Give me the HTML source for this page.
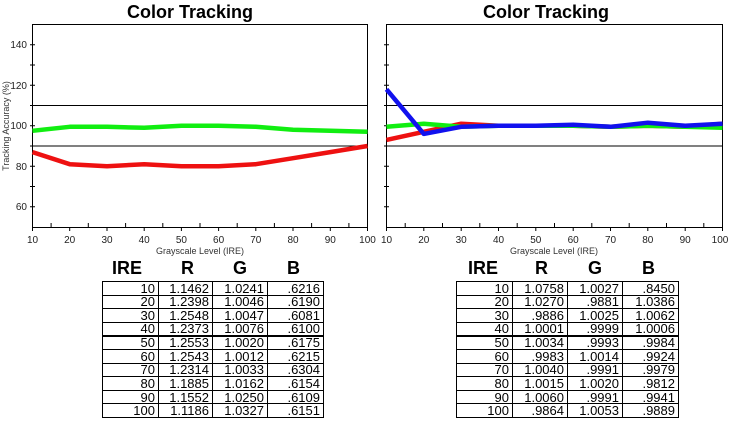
<!DOCTYPE html>
<html><head><style>
body{margin:0;width:733px;height:421px;background:#fff;overflow:hidden;font-family:"Liberation Sans",Arial,sans-serif;position:relative}
svg{position:absolute;left:0;top:0}
table{position:absolute;border-collapse:collapse;font-size:13px;table-layout:fixed}
td{box-sizing:border-box;border:1px solid #000;text-align:right;padding:0 3px 0 0;height:13.6px;line-height:11px;overflow:hidden}
tr.k td{border-bottom:2px solid #000}
.h{position:absolute;font-weight:bold;font-size:18px;top:258px}
</style></head><body>
<svg width="733" height="421" font-family="Liberation Sans, Arial, sans-serif">
<g font-weight="bold" font-size="18" text-anchor="middle">
<text x="190" y="18">Color Tracking</text>
<text x="546" y="18">Color Tracking</text>
</g>
<rect x="32.5" y="24.5" width="335" height="203" fill="none" stroke="#000" stroke-width="1"/>
<line x1="32.5" y1="105.5" x2="367.5" y2="105.5" stroke="#000"/>
<line x1="32.5" y1="146" x2="367.5" y2="146" stroke="#000"/>
<g stroke="#000">
<path d="M30 44.75h5M30 65h5M30 85.25h5M30 105.5h5M30 125.75h5M30 146h5M30 166.25h5M30 186.5h5M30 206.75h5"/>
<path d="M32.5 227v4M51.1 227v-4M69.7 227v4M88.3 227v-4M107 227v4M125.6 227v-4M144.2 227v4M162.8 227v-4M181.4 227v4M200 227v-4M218.6 227v4M237.2 227v-4M255.8 227v4M274.4 227v-4M293 227v4M311.6 227v-4M330.3 227v4M348.9 227v-4M367.5 227v4"/>
<path d="M384 44.75h5M384 65h5M384 85.25h5M384 105.5h5M384 125.75h5M384 146h5M384 166.25h5M384 186.5h5M384 206.75h5"/>
<path d="M386.5 227v4M405.2 227v-4M423.8 227v4M442.5 227v-4M461.2 227v4M479.8 227v-4M498.5 227v4M517.2 227v-4M535.8 227v4M554.5 227v-4M573.2 227v4M591.8 227v-4M610.5 227v4M629.2 227v-4M647.8 227v4M666.5 227v-4M685.2 227v4M703.8 227v-4M722.5 227v4"/>
</g>
<g font-size="10" fill="#222" text-anchor="end">
<text x="27" y="48">140</text><text x="27" y="89">120</text><text x="27" y="129">100</text><text x="27" y="170">80</text><text x="27" y="210">60</text>
</g>
<text transform="translate(9,126) rotate(-90)" font-size="9" fill="#333" text-anchor="middle">Tracking Accuracy (%)</text>
<g font-size="10" fill="#222" text-anchor="middle">
<text x="32.5" y="243">10</text><text x="69.7" y="243">20</text><text x="107" y="243">30</text><text x="144.2" y="243">40</text><text x="181.4" y="243">50</text><text x="218.6" y="243">60</text><text x="255.8" y="243">70</text><text x="293" y="243">80</text><text x="330.3" y="243">90</text><text x="367.5" y="243">100</text>
<text x="386.5" y="243">10</text><text x="423.8" y="243">20</text><text x="461.2" y="243">30</text><text x="498.5" y="243">40</text><text x="535.8" y="243">50</text><text x="573.2" y="243">60</text><text x="610.5" y="243">70</text><text x="647.8" y="243">80</text><text x="685.2" y="243">90</text><text x="720" y="243">100</text>
</g>
<text x="200" y="254" font-size="9" fill="#333" text-anchor="middle">Grayscale Level (IRE)</text>
<text x="554" y="254" font-size="9" fill="#333" text-anchor="middle">Grayscale Level (IRE)</text>
<g fill="none" stroke-width="4.5" stroke-linejoin="round">
<polyline stroke="#11ee11" points="32.5,130.8 69.7,126.8 107,126.8 144.2,127.8 181.4,125.8 218.6,125.8 255.8,126.8 293,129.8 330.3,130.8 367.5,131.8"/>
<polyline stroke="#ee1111" points="32.5,152.1 69.7,164.2 107,166.3 144.2,164.2 181.4,166.3 218.6,166.3 255.8,164.2 293,158.2 330.3,152.1 367.5,146"/>
</g>
<rect x="386.5" y="24.5" width="336" height="203" fill="none" stroke="#000" stroke-width="1"/>
<line x1="386.5" y1="105.5" x2="722.5" y2="105.5" stroke="#000"/>
<line x1="386.5" y1="146" x2="722.5" y2="146" stroke="#000"/>
<g fill="none" stroke-width="4.5" stroke-linejoin="round">
<polyline stroke="#ee1111" points="386.5,139.9 423.8,131.8 461.2,123.7 498.5,125.8 535.8,125.8 573.2,125.8 610.5,126.8 647.8,125.8 685.2,126.8 722.5,123.7"/>
<polyline stroke="#11ee11" points="386.5,126.8 423.8,123.7 461.2,126.8 498.5,125.8 535.8,125.8 573.2,125.8 610.5,126.8 647.8,125.8 685.2,126.8 722.5,127.8"/>
<polyline stroke="#1111ee" points="386.5,89.3 423.8,133.9 461.2,126.8 498.5,125.8 535.8,125.8 573.2,124.7 610.5,126.8 647.8,122.7 685.2,125.8 722.5,123.7"/>
</g>
</svg>
<div class="h" style="left:112px">IRE</div><div class="h" style="left:181px">R</div><div class="h" style="left:233px">G</div><div class="h" style="left:287px">B</div>
<div class="h" style="left:468px">IRE</div><div class="h" style="left:535px">R</div><div class="h" style="left:588px">G</div><div class="h" style="left:642px">B</div>
<table style="left:102px;top:281px;width:221px">
<colgroup><col style="width:56px"><col style="width:54px"><col style="width:55px"><col style="width:56px"></colgroup>
<tr><td>10</td><td>1.1462</td><td>1.0241</td><td>.6216</td></tr>
<tr><td>20</td><td>1.2398</td><td>1.0046</td><td>.6190</td></tr>
<tr><td>30</td><td>1.2548</td><td>1.0047</td><td>.6081</td></tr>
<tr class="k"><td>40</td><td>1.2373</td><td>1.0076</td><td>.6100</td></tr>
<tr><td>50</td><td>1.2553</td><td>1.0020</td><td>.6175</td></tr>
<tr><td>60</td><td>1.2543</td><td>1.0012</td><td>.6215</td></tr>
<tr><td>70</td><td>1.2314</td><td>1.0033</td><td>.6304</td></tr>
<tr><td>80</td><td>1.1885</td><td>1.0162</td><td>.6154</td></tr>
<tr><td>90</td><td>1.1552</td><td>1.0250</td><td>.6109</td></tr>
<tr><td>100</td><td>1.1186</td><td>1.0327</td><td>.6151</td></tr>
</table>
<table style="left:456px;top:281px;width:222px">
<colgroup><col style="width:56px"><col style="width:55px"><col style="width:55px"><col style="width:56px"></colgroup>
<tr><td>10</td><td>1.0758</td><td>1.0027</td><td>.8450</td></tr>
<tr><td>20</td><td>1.0270</td><td>.9881</td><td>1.0386</td></tr>
<tr><td>30</td><td>.9886</td><td>1.0025</td><td>1.0062</td></tr>
<tr class="k"><td>40</td><td>1.0001</td><td>.9999</td><td>1.0006</td></tr>
<tr><td>50</td><td>1.0034</td><td>.9993</td><td>.9984</td></tr>
<tr><td>60</td><td>.9983</td><td>1.0014</td><td>.9924</td></tr>
<tr><td>70</td><td>1.0040</td><td>.9991</td><td>.9979</td></tr>
<tr><td>80</td><td>1.0015</td><td>1.0020</td><td>.9812</td></tr>
<tr><td>90</td><td>1.0060</td><td>.9991</td><td>.9941</td></tr>
<tr><td>100</td><td>.9864</td><td>1.0053</td><td>.9889</td></tr>
</table>
</body></html>
